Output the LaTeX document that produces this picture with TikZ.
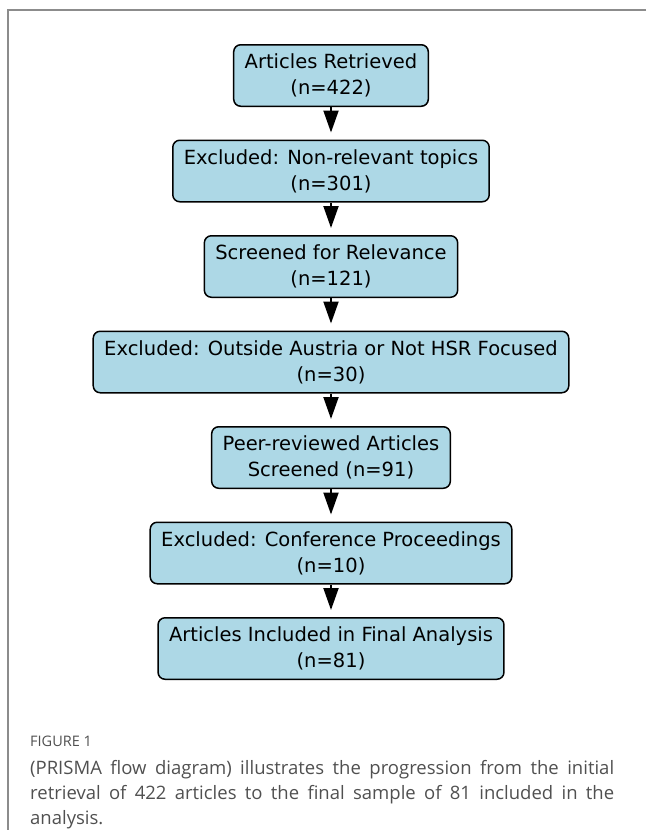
\documentclass[tikz,border=0pt]{standalone}
\usepackage{fontspec}
\setmainfont{DejaVu Sans}
\newfontfamily\captionfont{Open Sans}
\usepackage{xcolor}
\definecolor{boxblue}{RGB}{173,216,230}
\definecolor{framegray}{RGB}{140,140,140}
\definecolor{captiongray}{RGB}{80,80,80}
\usetikzlibrary{
	arrows.meta,
	positioning
}
\tikzset{
	stepbox/.style={draw=black, fill=boxblue, line width=1.5pt, rounded corners=7pt,
		align=center, minimum height=61.5pt, inner xsep=11pt,
		font=\fontsize{19.5}{26}\selectfont},
	flow/.style={-{Triangle[width=15pt, length=22pt]}, line width=2pt, black, shorten >=7pt}
}

\begin{document}
\begin{tikzpicture}[x=1pt, y=-1pt, node distance=32.5pt]
	\useasboundingbox (0,0) rectangle (646,830);

	% figure frame
	\draw[framegray, line width=1.2pt] (646,10) -- (8,10) -- (8,830);

	\node[stepbox] (retrieved) at (331,75.5) {Articles Retrieved\\(n=422)};
	\node[stepbox, below=of retrieved] (nonrel) {Excluded: Non-relevant topics\\(n=301)};
	\node[stepbox, below=of nonrel] (screened) {Screened for Relevance\\(n=121)};
	\node[stepbox, below=of screened] (austria) {Excluded: Outside Austria or Not HSR Focused\\(n=30)};
	\node[stepbox, below=of austria] (peer) {Peer-reviewed Articles\\Screened (n=91)};
	\node[stepbox, below=of peer] (confs) {Excluded: Conference Proceedings\\(n=10)};
	\node[stepbox, below=of confs] (final) {Articles Included in Final Analysis\\(n=81)};

	\foreach \a/\b in {retrieved/nonrel, nonrel/screened, screened/austria, austria/peer, peer/confs, confs/final} {
		\draw[flow] (\a.south) -- (\b.north);
	}

	% caption
	\node[anchor=west, inner sep=0pt, text=captiongray, font=\captionfont\fontsize{14.5}{15}\selectfont] (figlabel) at (30,741) {FIGURE 1};
	\node[anchor=north west, inner sep=0pt, text width=584pt, align=justify, text=captiongray,
		font=\captionfont\fontsize{18.5}{25}\selectfont] (caption) at (30,760)
		{(PRISMA flow diagram) illustrates the progression from the initial\linebreak
		retrieval of 422 articles to the final sample of 81 included in the\linebreak
		analysis.};
\end{tikzpicture}
\end{document}
